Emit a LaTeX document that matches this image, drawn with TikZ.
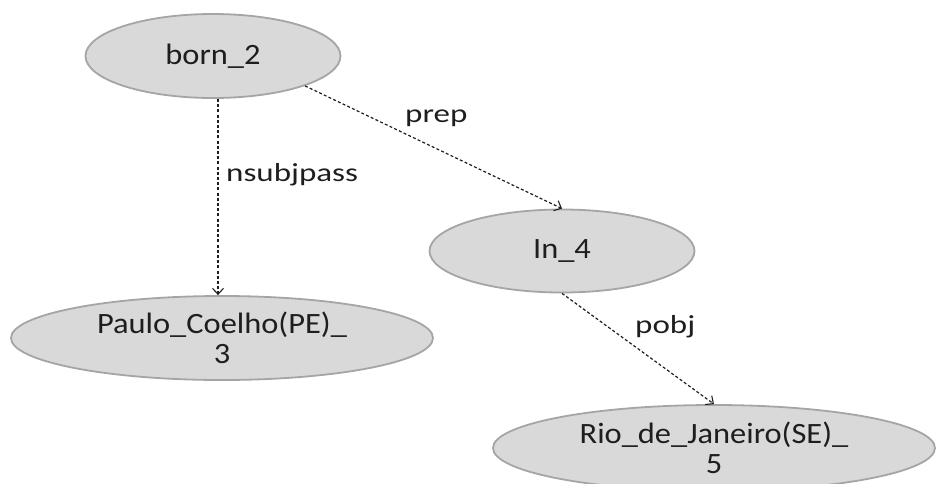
\documentclass[tikz,border=0pt]{standalone}
\usepackage{fontspec}
\usetikzlibrary{arrows.meta,shapes.geometric}
\newfontfamily\nodefont[FakeStretch=1.1]{Carlito}
\newfontfamily\edgefont[FakeStretch=1.27]{Carlito}
\definecolor{nodefill}{HTML}{D9D9D9}
\definecolor{nodeline}{HTML}{A5A5A5}
\definecolor{inkgray}{HTML}{1E1E1E}
\tikzset{
  token/.style={ellipse, draw=nodeline, fill=nodefill, line width=1.8pt,
    inner sep=0pt, align=center, text=inkgray,
    font=\nodefont\fontsize{29.5}{30}\selectfont},
  dep/.style={draw=inkgray, line width=1.2pt, dash pattern=on 3pt off 2.2pt,
    -{Straight Barb[length=6pt,width=11pt,line width=1.1pt]}},
  deplabel/.style={anchor=base west, inner sep=0pt, text=inkgray,
    font=\edgefont\fontsize{26}{28}\selectfont}
}
\begin{document}
\begin{tikzpicture}[x=1pt, y=-1pt]
  \useasboundingbox (0,0) rectangle (936,483);

  \node[token, minimum width=255pt, minimum height=84pt] (born) at (213,56) {born\_2};
  \node[token, minimum width=422pt, minimum height=84pt] (paulo) at (222,338) {Paulo\_Coelho(PE)\_\\3};
  \node[token, minimum width=265pt, minimum height=83pt] (in) at (562,251) {In\_4};
  \node[token, minimum width=442pt, minimum height=86pt] (rio) at (714,448) {Rio\_de\_Janeiro(SE)\_\\5};

  \draw[dep] (born.south -| 218,0) -- (paulo.north -| 218,0);
  \draw[dep] (born.-18) -- (in.north);
  \draw[dep] (in.south) -- (rio.north);

  \node[deplabel] (l1) at (226,181) {nsubjpass};
  \node[deplabel] (l2) at (405,122) {prep};
  \node[deplabel] (l3) at (635,333) {pobj};
\end{tikzpicture}
\end{document}
